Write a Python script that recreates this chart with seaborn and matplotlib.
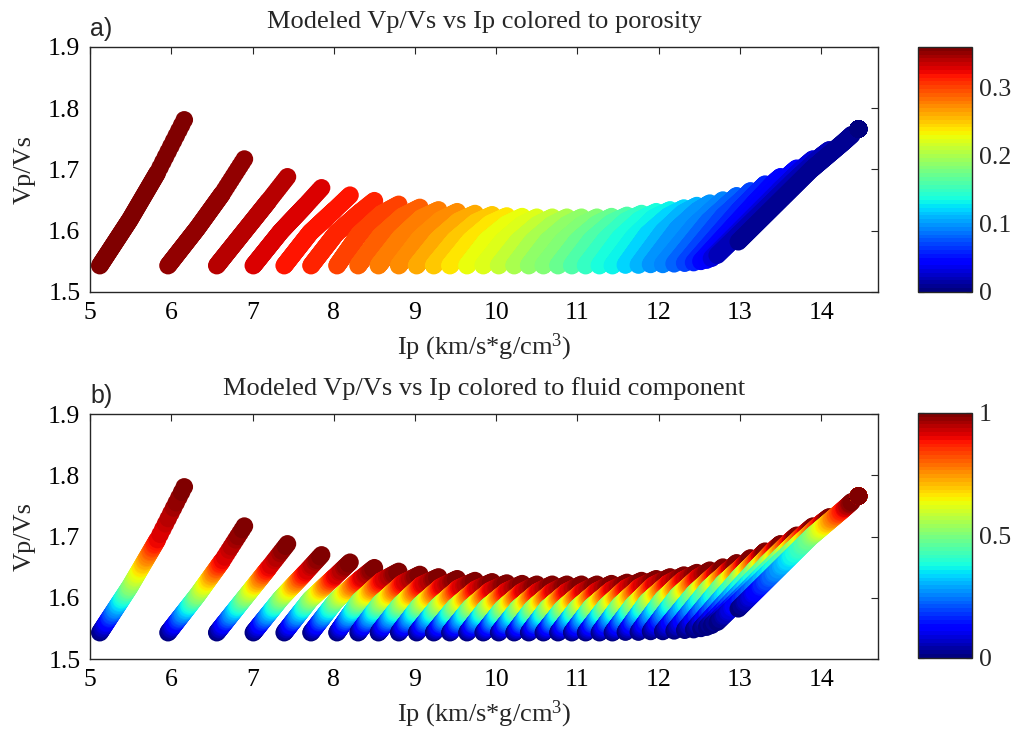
import numpy as np
import pandas as pd
import matplotlib
matplotlib.use("Agg")
import matplotlib.pyplot as plt
import seaborn as sns
from matplotlib.colors import Normalize
from matplotlib.cm import ScalarMappable

# ---------------- data ----------------
porosity = [0.36, 0.35, 0.34, 0.33, 0.32, 0.31, 0.30, 0.29, 0.28, 0.27,
            0.26, 0.25, 0.24, 0.23, 0.22, 0.21, 0.20, 0.19, 0.18, 0.17,
            0.16, 0.15, 0.14, 0.13, 0.12, 0.11, 0.10, 0.09, 0.08, 0.07,
            0.06, 0.05, 0.04, 0.03, 0.02, 0.01, 0.00]

# fluid component levels at which each modeled curve is sampled
fluid_levels = [0.00, 0.01, 0.02, 0.03, 0.04, 0.05, 0.06, 0.07, 0.08, 0.09,
                0.10, 0.11, 0.12, 0.13, 0.14, 0.15, 0.16, 0.17, 0.18, 0.19,
                0.20, 0.21, 0.22, 0.23, 0.24, 0.25, 0.26, 0.27, 0.28, 0.29,
                0.30, 0.31, 0.32, 0.33, 0.34, 0.35, 0.36, 0.37, 0.38, 0.39,
                0.40, 0.41, 0.42, 0.43, 0.44, 0.45, 0.46, 0.47, 0.48, 0.49,
                0.50, 0.51, 0.52, 0.53, 0.54, 0.55, 0.56, 0.57, 0.58, 0.59,
                0.60, 0.61, 0.62, 0.63, 0.64, 0.65, 0.66, 0.67, 0.68, 0.69,
                0.70, 0.71, 0.72, 0.73, 0.74, 0.75, 0.76, 0.77, 0.78, 0.79,
                0.80, 0.81, 0.82, 0.83, 0.84, 0.85, 0.86, 0.87, 0.88, 0.89,
                0.90, 0.91, 0.92, 0.93, 0.94, 0.95, 0.96, 0.97, 0.98, 0.99,
                1.00]

# key fluid values at which Ip and Vp/Vs were read for every curve
key_fluid = [0.0, 0.5, 0.9, 1.0]

ip_f0 = [5.12, 5.96, 6.56, 7.01, 7.39, 7.72, 8.04, 8.30, 8.55, 8.80,
         9.02, 9.23, 9.43, 9.64, 9.84, 10.03, 10.22, 10.40, 10.58, 10.76,
         10.93, 11.10, 11.27, 11.43, 11.59, 11.75, 11.90, 12.05, 12.19, 12.32,
         12.43, 12.52, 12.59, 12.65, 12.72, 12.98, 14.46]
ip_f50 = [5.49, 6.32, 6.91, 7.35, 7.71, 8.03, 8.31, 8.57, 8.82, 9.06,
          9.28, 9.49, 9.68, 9.88, 10.08, 10.27, 10.45, 10.63, 10.82, 11.00,
          11.17, 11.35, 11.52, 11.69, 11.86, 12.05, 12.23, 12.44, 12.61, 12.79,
          12.98, 13.17, 13.32, 13.48, 13.63, 13.88, 14.46]
ip_f90 = [5.83, 6.63, 7.20, 7.65, 8.01, 8.33, 8.59, 8.85, 9.08, 9.32,
          9.54, 9.75, 9.93, 10.13, 10.32, 10.51, 10.69, 10.87, 11.06, 11.24,
          11.42, 11.60, 11.77, 11.94, 12.12, 12.30, 12.48, 12.69, 12.87, 13.05,
          13.24, 13.43, 13.62, 13.81, 14.00, 14.28, 14.46]
ip_f100 = [6.16, 6.90, 7.43, 7.85, 8.20, 8.50, 8.80, 9.06, 9.29, 9.52,
           9.74, 9.95, 10.13, 10.32, 10.50, 10.69, 10.87, 11.05, 11.24, 11.42,
           11.61, 11.79, 11.97, 12.14, 12.31, 12.47, 12.63, 12.79, 12.96, 13.13,
           13.31, 13.50, 13.70, 13.90, 14.10, 14.38, 14.46]

vpvs_f0 = [1.543, 1.543, 1.543, 1.543, 1.543, 1.543, 1.543, 1.543, 1.543, 1.543,
           1.543, 1.543, 1.543, 1.543, 1.543, 1.543, 1.543, 1.543, 1.543, 1.543,
           1.543, 1.543, 1.543, 1.543, 1.544, 1.544, 1.545, 1.545, 1.546, 1.547,
           1.548, 1.550, 1.552, 1.555, 1.560, 1.582, 1.766]
vpvs_f50 = [1.618, 1.604, 1.601, 1.599, 1.597, 1.596, 1.594, 1.591, 1.589, 1.588,
            1.586, 1.585, 1.584, 1.584, 1.583, 1.583, 1.583, 1.583, 1.583, 1.584,
            1.585, 1.586, 1.588, 1.589, 1.594, 1.598, 1.603, 1.608, 1.615, 1.623,
            1.632, 1.644, 1.654, 1.665, 1.677, 1.700, 1.766]
vpvs_f90 = [1.695, 1.661, 1.649, 1.641, 1.634, 1.631, 1.628, 1.624, 1.621, 1.618,
            1.616, 1.614, 1.612, 1.611, 1.610, 1.610, 1.610, 1.610, 1.610, 1.611,
            1.613, 1.616, 1.618, 1.621, 1.624, 1.629, 1.633, 1.638, 1.646, 1.654,
            1.667, 1.680, 1.693, 1.707, 1.722, 1.745, 1.766]
vpvs_f100 = [1.781, 1.717, 1.688, 1.670, 1.658, 1.649, 1.643, 1.638, 1.634, 1.631,
             1.628, 1.626, 1.624, 1.623, 1.622, 1.622, 1.622, 1.622, 1.622, 1.623,
             1.625, 1.628, 1.631, 1.634, 1.637, 1.641, 1.645, 1.650, 1.657, 1.665,
             1.676, 1.688, 1.702, 1.717, 1.732, 1.757, 1.766]

x_ticks = [5, 6, 7, 8, 9, 10, 11, 12, 13, 14]
y_ticks = [1.5, 1.6, 1.7, 1.8, 1.9]
cbar_a_ticks = [0, 0.1, 0.2, 0.3]
cbar_a_labels = ["0", "0.1", "0.2", "0.3"]
cbar_b_ticks = [0, 0.5, 1]
cbar_b_labels = ["0", "0.5", "1"]

# ---------------- build the table ----------------
rows = []
for i, phi in enumerate(porosity):
    kx = [ip_f0[i], ip_f50[i], ip_f90[i], ip_f100[i]]
    ky = [vpvs_f0[i], vpvs_f50[i], vpvs_f90[i], vpvs_f100[i]]
    for f in fluid_levels:
        rows.append((phi, f, np.interp(f, key_fluid, kx), np.interp(f, key_fluid, ky)))
df = pd.DataFrame(rows, columns=["porosity", "fluid", "ip", "vpvs"])

# ---------------- style ----------------
sns.set_style("white")
plt.rcParams["font.family"] = ["Liberation Serif", "DejaVu Serif"]
plt.rcParams["mathtext.fontset"] = "custom"
plt.rcParams["mathtext.rm"] = "Liberation Serif"
plt.rcParams["mathtext.it"] = "Liberation Serif:italic"

jet = plt.get_cmap("jet", 64)
TICK_FS = 18.5
LABEL_FS = 19
TITLE_FS = 19
MARKER_S = 160

fig = plt.figure(figsize=(10.14, 7.36), dpi=100)
ax1 = fig.add_axes([0.0888, 0.6033, 0.7771, 0.3329])
ax2 = fig.add_axes([0.0888, 0.1046, 0.7771, 0.3329])
cax1 = fig.add_axes([0.9053, 0.6033, 0.0533, 0.3329])
cax2 = fig.add_axes([0.9053, 0.1060, 0.0533, 0.3329])

norm_a = Normalize(0, 0.36)
norm_b = Normalize(0, 1)

sns.scatterplot(data=df, x="ip", y="vpvs", hue="porosity", palette=jet,
                hue_norm=norm_a, s=MARKER_S, linewidth=0, legend=False, ax=ax1)
sns.scatterplot(data=df, x="ip", y="vpvs", hue="fluid", palette=jet,
                hue_norm=norm_b, s=MARKER_S, linewidth=0, legend=False, ax=ax2)

titles = ["Modeled Vp/Vs vs Ip colored to porosity",
          "Modeled Vp/Vs vs Ip colored to fluid component"]
tags = ["a)", "b)"]
for ax, title, tag in zip([ax1, ax2], titles, tags):
    ax.set_xlim(5, 14.7)
    ax.set_ylim(1.5, 1.9)
    ax.set_xticks(x_ticks)
    ax.set_yticks(y_ticks)
    ax.set_xticklabels([str(t) for t in x_ticks])
    ax.set_yticklabels([f"{t:.1f}" for t in y_ticks])
    ax.tick_params(direction="in", length=5, width=0.8, top=True, right=True,
                   labelsize=TICK_FS, pad=7, colors="#262626", labelcolor="black")
    for sp in ax.spines.values():
        sp.set_visible(True)
        sp.set_color("#262626")
        sp.set_linewidth(1.0)
    ax.set_xlabel("Ip (km/s*g/cm$^3$)", fontsize=LABEL_FS, labelpad=6)
    ax.set_ylabel("Vp/Vs", fontsize=LABEL_FS, labelpad=9)
    ax.set_title(title, fontsize=TITLE_FS, pad=14)
    ax.text(0.0, 1.025, tag, transform=ax.transAxes, ha="left", va="bottom",
            fontsize=18, family=["Liberation Sans", "DejaVu Sans"])

for cax, norm, ticks, labels in [(cax1, norm_a, cbar_a_ticks, cbar_a_labels),
                                 (cax2, norm_b, cbar_b_ticks, cbar_b_labels)]:
    cb = fig.colorbar(ScalarMappable(norm=norm, cmap=jet), cax=cax, ticks=ticks)
    cb.ax.set_yticklabels(labels)
    cb.ax.tick_params(direction="in", length=4, width=0.8, left=True, right=True,
                      labelsize=TICK_FS, pad=5)
    cb.outline.set_linewidth(1.0)
    cb.outline.set_edgecolor("#262626")

fig.savefig("out.png", dpi=100)
